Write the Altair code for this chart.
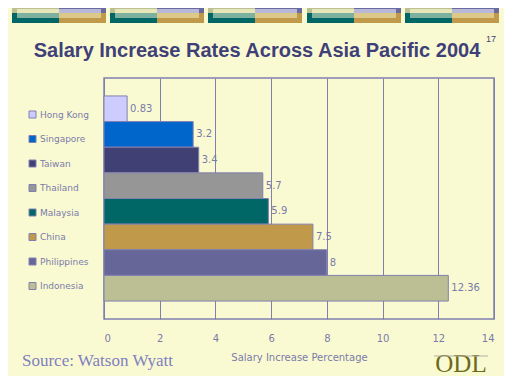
import altair as alt
import pandas as pd

countries = ["Hong Kong", "Singapore", "Taiwan", "Thailand", "Malaysia", "China", "Philippines", "Indonesia"]
values = [0.83, 3.2, 3.4, 5.7, 5.9, 7.5, 8, 12.36]
colors = ["#ccccff", "#0066cc", "#404075", "#969696", "#006666", "#c09a4a", "#666699", "#bbbf93"]
x_ticks = [0, 2, 4, 6, 8, 10, 12, 14]

df = pd.DataFrame({"country": countries, "value": values})

BG = "#fafad2"
INK = "#7a7aaa"
SMALL = "DejaVu Sans"
W, H = 390, 241

base = alt.Chart(df)

bars = base.mark_bar(stroke="#8080b0", strokeWidth=1, opacity=1).encode(
    y=alt.Y("country:N", sort=countries, axis=None,
            scale=alt.Scale(paddingInner=0, paddingOuter=0.7)),
    x=alt.X("value:Q", scale=alt.Scale(domain=[0, 14], nice=False),
            axis=alt.Axis(values=x_ticks, title="Salary Increase Percentage", grid=True,
                          gridColor="#8080b0", gridOpacity=1, ticks=False, domain=False,
                          labelColor=INK, labelFontSize=10, labelPadding=14,
                          labelFont=SMALL,
                          titleColor=INK, titleFontSize=10, titleFontWeight="normal",
                          titleFont=SMALL, titlePadding=9)),
    color=alt.Color("country:N", sort=countries,
                    scale=alt.Scale(domain=countries, range=colors),
                    legend=alt.Legend(title=None, orient="none", legendX=-76, legendY=32,
                                      symbolType="square", symbolSize=49,
                                      symbolStrokeColor="#8080b0", symbolStrokeWidth=1,
                                      symbolOpacity=1,
                                      labelColor=INK, labelFontSize=9, labelFont=SMALL,
                                      rowPadding=13.5, padding=0, labelOffset=3)),
)

labels = base.mark_text(align="left", baseline="middle", dx=3, color=INK, fontSize=10,
                        font=SMALL).encode(
    y=alt.Y("country:N", sort=countries),
    x=alt.X("value:Q"),
    text=alt.Text("value:Q"),
)

one = alt.Data(values=[{}])
layers = []

# decorative banner blocks at the top
for bx in [12, 110, 208, 307, 405]:
    x0 = bx - 104
    specs = [
        (x0, x0 + 47, -74, -65, "#bbbf93"),
        (x0 + 47, x0 + 94, -74, -65, "#6a6aa0"),
        (x0, x0 + 47, -65, -55, "#006666"),
        (x0 + 47, x0 + 94, -65, -55, "#c09a4a"),
        (x0 + 5, x0 + 47, -69, -65, "#e6e6b8"),
        (x0 + 47, x0 + 89, -69, -65, "#b8b8d8"),
        (x0 + 5, x0 + 47, -65, -60, "#7db09e"),
        (x0 + 47, x0 + 89, -65, -60, "#dcc98a"),
    ]
    for a, b, c, d, col in specs:
        layers.append(alt.Chart(one).mark_rect(color=col).encode(
            x=alt.value(a), x2=alt.value(b), y=alt.value(c), y2=alt.value(d)))

title = alt.Chart(one).mark_text(text="Salary Increase Rates Across Asia Pacific 2004",
                                 font="Liberation Sans", fontSize=20, fontWeight="bold",
                                 color="#404078", align="center", baseline="alphabetic").encode(
    x=alt.value(153), y=alt.value(-21))
page = alt.Chart(one).mark_text(text="17", font="Liberation Sans", fontSize=9,
                                color="#404078", align="center", baseline="alphabetic").encode(
    x=alt.value(387), y=alt.value(-36))
source = alt.Chart(one).mark_text(text="Source: Watson Wyatt", font="Liberation Serif", fontSize=17,
                                  color="#8080c0", align="left", baseline="alphabetic").encode(
    x=alt.value(-82), y=alt.value(288))
odl = alt.Chart(one).mark_text(text="ODL", font="Liberation Serif", fontSize=25,
                               color="#6b6b1a", align="center", baseline="alphabetic").encode(
    x=alt.value(357), y=alt.value(294))
odl_line = alt.Chart(one).mark_rule(color="#b0b0a0").encode(
    x=alt.value(330), x2=alt.value(384), y=alt.value(278))

chart = alt.layer(*layers, bars, labels, title, page, source, odl, odl_line).properties(
    width=W, height=H,
    padding={"left": 96, "top": 70, "right": 10, "bottom": 57},
    autosize=alt.AutoSizeParams(type="none"),
    background=BG,
).configure_view(stroke="#8080b0", strokeWidth=1.5, fill=None)

chart.save("out.html", embed_options={"renderer": "svg", "actions": False})
